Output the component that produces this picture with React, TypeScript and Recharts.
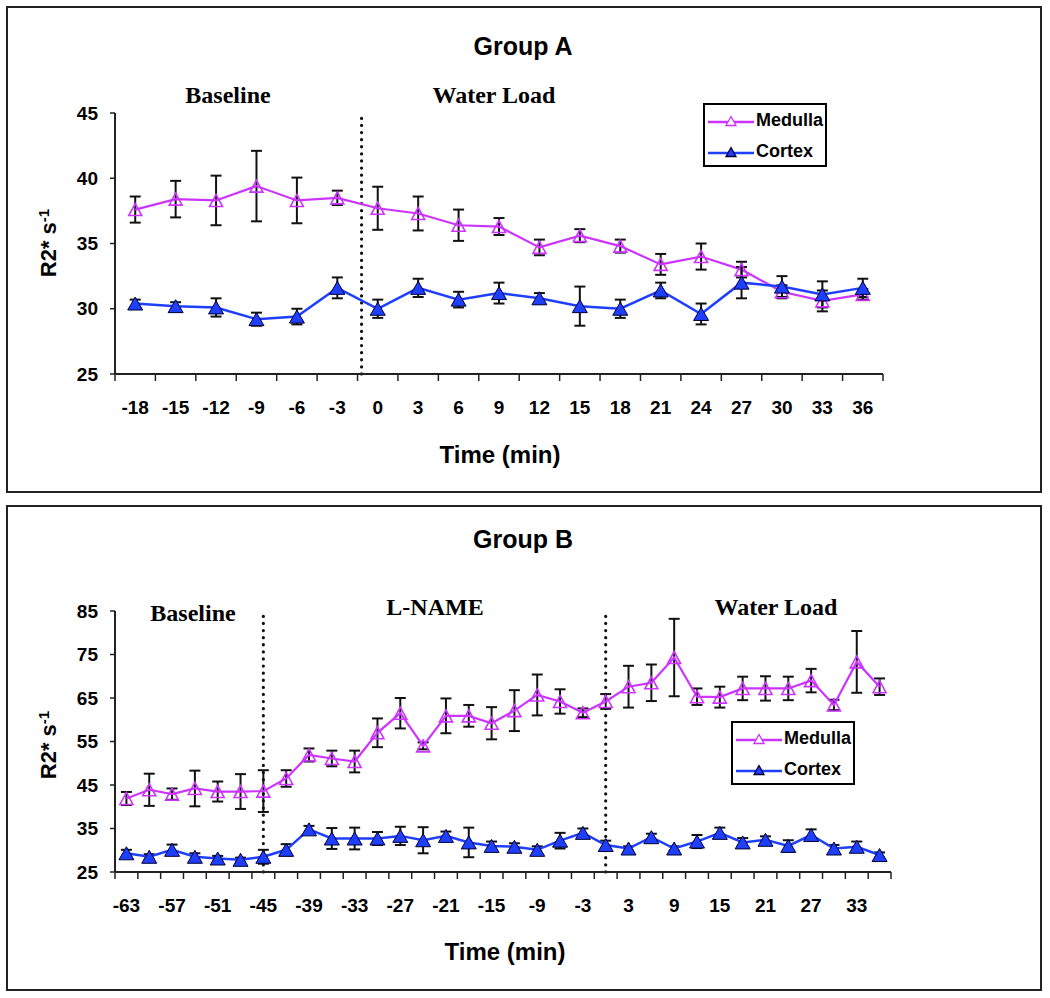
import React from 'react';
import { LineChart, Line, XAxis, YAxis, ErrorBar, ReferenceLine } from 'recharts';

// Group A: baseline then water load, 3 min steps
const timesA = [-18, -15, -12, -9, -6, -3, 0, 3, 6, 9, 12, 15, 18, 21, 24, 27, 30, 33, 36];
const medullaA = [37.6, 38.4, 38.3, 39.4, 38.3, 38.5, 37.7, 37.3, 36.4, 36.3, 34.7, 35.6, 34.8, 33.4, 34.0, 33.0, 31.3, 30.6, 31.1];
const medullaAErr = [1.0, 1.4, 1.9, 2.7, 1.75, 0.55, 1.65, 1.3, 1.2, 0.65, 0.6, 0.5, 0.5, 0.8, 1.0, 0.6, 0.5, 0.8, 0.4];
const cortexA = [30.4, 30.2, 30.1, 29.2, 29.4, 31.6, 30.0, 31.6, 30.7, 31.2, 30.8, 30.2, 30.0, 31.4, 29.6, 32.0, 31.7, 31.1, 31.6];
const cortexAErr = [0.3, 0.3, 0.7, 0.5, 0.6, 0.8, 0.7, 0.7, 0.6, 0.8, 0.4, 1.5, 0.7, 0.6, 0.8, 1.2, 0.8, 1.0, 0.7];
const yTicksA = [25, 30, 35, 40, 45];
const phaseLinesA = [-1.2];

// Group B: baseline, L-NAME, then water load
const timesB = [-63, -60, -57, -54, -51, -48, -45, -42, -39, -36, -33, -30, -27, -24, -21, -18, -15, -12, -9, -6, -3, 0, 3, 6, 9, 12, 15, 18, 21, 24, 27, 30, 33, 36];
const labelTicksB = [-63, -57, -51, -45, -39, -33, -27, -21, -15, -9, -3, 3, 9, 15, 21, 27, 33];
const medullaB = [41.9, 43.9, 42.9, 44.2, 43.5, 43.5, 43.6, 46.5, 51.9, 51.1, 50.4, 57.0, 61.5, 54.0, 60.9, 60.9, 59.2, 62.1, 65.7, 64.2, 61.6, 64.2, 67.6, 68.5, 74.3, 65.3, 65.2, 67.2, 67.2, 67.2, 69.0, 63.4, 73.3, 67.6];
const medullaBErr = [1.5, 3.7, 1.3, 4.1, 2.3, 4.0, 4.8, 1.9, 1.5, 1.8, 2.5, 3.3, 3.5, 0.8, 4.0, 2.5, 3.7, 4.7, 4.7, 2.8, 1.0, 1.7, 4.8, 4.2, 8.9, 1.9, 2.4, 2.7, 2.8, 2.7, 2.7, 1.2, 7.1, 1.9];
const cortexB = [29.3, 28.5, 30.1, 28.5, 28.1, 27.8, 28.5, 30.1, 34.8, 32.7, 32.7, 32.7, 33.3, 32.3, 33.3, 31.8, 31.0, 30.8, 30.1, 32.2, 34.0, 31.2, 30.4, 33.0, 30.4, 32.0, 34.0, 31.8, 32.4, 31.0, 33.5, 30.4, 30.8, 28.9];
const cortexBErr = [0.8, 0.6, 1.2, 0.8, 0.6, 0.5, 1.6, 1.3, 0.8, 2.4, 2.5, 1.5, 2.1, 3.0, 1.0, 3.4, 1.0, 0.8, 0.8, 1.8, 1.0, 1.0, 0.5, 0.8, 0.5, 1.5, 1.2, 1.0, 0.8, 1.3, 1.3, 0.8, 1.2, 0.6];
const yTicksB = [25, 35, 45, 55, 65, 75, 85];
const phaseLinesB = [-45, 0];

const MED = '#CC33FF';
const COR = '#1F3FFF';
const SANS = "'Liberation Sans', Arial, sans-serif";
const SERIF = "'Liberation Serif', 'Times New Roman', serif";

const buildRows = (times: number[], med: number[], medErr: number[], cor: number[], corErr: number[]) =>
  times.map((t, i) => ({ t, med: med[i], medErr: medErr[i], cor: cor[i], corErr: corErr[i] }));

const dataA = buildRows(timesA, medullaA, medullaAErr, cortexA, cortexAErr);
const dataB = buildRows(timesB, medullaB, medullaBErr, cortexB, cortexBErr);

const tri = (cx: number, cy: number, w: number, h: number) =>
  `M${cx},${cy - h / 2}L${cx + w / 2},${cy + h / 2}L${cx - w / 2},${cy + h / 2}Z`;

const MedullaDot = (p: any) =>
  p.cx == null ? <g key={`m${p.index}`} /> : (
    <path key={`m${p.index}`} d={tri(p.cx, p.cy, 13, 12)} fill="none" stroke={MED} strokeWidth={1.6} />
  );

const CortexDot = (p: any) =>
  p.cx == null ? <g key={`c${p.index}`} /> : (
    <path key={`c${p.index}`} d={tri(p.cx, p.cy, 15, 13)} fill={COR} stroke="#000033" strokeWidth={1} />
  );

interface GroupChartProps {
  top: number;
  height: number;
  marginTop: number;
  marginRight: number;
  data: any[];
  times: number[];
  labelTicks: number[];
  yDomain: [number, number];
  yTicks: number[];
  phaseLines: number[];
}

function GroupChart(props: GroupChartProps) {
  const { top, height, marginTop, marginRight, data, times, labelTicks, yDomain, yTicks, phaseLines } = props;
  const step = times[1] - times[0];
  const domain = [times[0] - step / 2, times[times.length - 1] + step / 2];
  // Excel style: tick marks sit between the categories
  const bounds = times.map((t) => t - step / 2).concat(times[times.length - 1] + step / 2);

  return (
    <div style={{ position: 'absolute', left: 0, top }}>
      <LineChart width={1050} height={height} data={data}
        margin={{ top: marginTop, right: marginRight, bottom: 78, left: 55 }}>
        {/* inner axis: line + tick marks only */}
        <XAxis xAxisId="a" dataKey="t" type="number" domain={domain} ticks={bounds} interval={0}
          tickFormatter={() => ''} tickSize={7} height={8} allowDataOverflow
          axisLine={{ stroke: '#222', strokeWidth: 2 }} tickLine={{ stroke: '#222', strokeWidth: 1.5 }} />
        {/* outer axis: labels only */}
        <XAxis xAxisId="b" dataKey="t" type="number" domain={domain} ticks={labelTicks} interval={0}
          axisLine={false} tickLine={false} tickSize={0} tickMargin={19} height={40} allowDataOverflow
          tick={{ fontSize: 19, fontWeight: 'bold', fill: '#000', fontFamily: SANS }} />
        <YAxis type="number" domain={yDomain} ticks={yTicks} interval={0} width={60}
          tickSize={5} tickMargin={12}
          axisLine={{ stroke: '#222', strokeWidth: 2 }} tickLine={{ stroke: '#222', strokeWidth: 1.5 }}
          tick={{ fontSize: 19, fontWeight: 'bold', fill: '#000', fontFamily: SANS }} />
        {phaseLines.map((x) => (
          <ReferenceLine key={x} xAxisId="b" x={x} stroke="#111" strokeWidth={3.2}
            strokeDasharray="0.1 7" strokeLinecap="round" />
        ))}
        <Line xAxisId="b" dataKey="med" stroke={MED} strokeWidth={2.2} dot={MedullaDot} isAnimationActive={false}>
          <ErrorBar dataKey="medErr" direction="y" width={5.5} stroke="#111" strokeWidth={2} />
        </Line>
        <Line xAxisId="b" dataKey="cor" stroke={COR} strokeWidth={2.5} dot={CortexDot} isAnimationActive={false}>
          <ErrorBar dataKey="corErr" direction="y" width={5.5} stroke="#111" strokeWidth={2} />
        </Line>
      </LineChart>
    </div>
  );
}

const centered = (x: number, y: number, extra: React.CSSProperties = {}): React.CSSProperties => ({
  position: 'absolute', left: x, top: y, transform: 'translate(-50%, -50%)',
  whiteSpace: 'nowrap', lineHeight: 1, ...extra,
});

const sansBold: React.CSSProperties = { fontFamily: SANS, fontWeight: 'bold', color: '#000' };
const serifBold: React.CSSProperties = { fontFamily: SERIF, fontWeight: 'bold', color: '#000', fontSize: 24 };

function LegendBox({ left, top }: { left: number; top: number }) {
  const row = (label: string, color: string, filled: boolean) => (
    <div style={{ display: 'flex', alignItems: 'center', height: 31 }}>
      <svg width={46} height={14} style={{ marginLeft: 3 }}>
        <line x1={0} y1={8} x2={46} y2={8} stroke={color} strokeWidth={2.5} />
        <path d={tri(23, 7, 10, 9)} fill={filled ? color : '#fff'} stroke={filled ? '#000033' : color} strokeWidth={1.3} />
      </svg>
      <span style={{ ...sansBold, fontSize: 18, marginLeft: 2 }}>{label}</span>
    </div>
  );
  return (
    <div style={{ position: 'absolute', left, top, width: 124, height: 64, border: '2px solid #000', boxSizing: 'border-box', background: '#fff' }}>
      {row('Medulla', MED, false)}
      {row('Cortex', COR, true)}
    </div>
  );
}

const yLabel = (x: number, y: number) => (
  <div style={centered(x, y, { ...sansBold, fontSize: 22, transform: 'translate(-50%, -50%) rotate(-90deg)' })}>
    R2* s<span style={{ fontSize: 15, verticalAlign: '45%' }}>-1</span>
  </div>
);

export default function App() {
  return (
    <div style={{ position: 'absolute', left: 0, top: 0, width: 1050, height: 998, background: '#fff' }}>
      <div style={{ position: 'absolute', left: 6, top: 6, width: 1036, height: 487, border: '2px solid #222', boxSizing: 'border-box' }} />
      <div style={{ position: 'absolute', left: 6, top: 505, width: 1036, height: 486, border: '2px solid #222', boxSizing: 'border-box' }} />

      <GroupChart top={0} height={500} marginTop={113} marginRight={167} data={dataA} times={timesA}
        labelTicks={timesA} yDomain={[25, 45]} yTicks={yTicksA} phaseLines={phaseLinesA} />
      <GroupChart top={500} height={498} marginTop={111} marginRight={159} data={dataB} times={timesB}
        labelTicks={labelTicksB} yDomain={[25, 85]} yTicks={yTicksB} phaseLines={phaseLinesB} />

      <div style={centered(523, 46, { ...sansBold, fontSize: 25 })}>Group A</div>
      <div style={centered(228, 95, serifBold)}>Baseline</div>
      <div style={centered(494, 95, serifBold)}>Water Load</div>
      {yLabel(48, 243)}
      <div style={centered(500, 455, { ...sansBold, fontSize: 24 })}>Time (min)</div>
      <LegendBox left={703} top={103} />

      <div style={centered(523, 539, { ...sansBold, fontSize: 25 })}>Group B</div>
      <div style={centered(193, 613, serifBold)}>Baseline</div>
      <div style={centered(435, 607, serifBold)}>L-NAME</div>
      <div style={centered(776, 607, serifBold)}>Water Load</div>
      {yLabel(48, 745)}
      <div style={centered(505, 952, { ...sansBold, fontSize: 24 })}>Time (min)</div>
      <LegendBox left={731} top={721} />
    </div>
  );
}
